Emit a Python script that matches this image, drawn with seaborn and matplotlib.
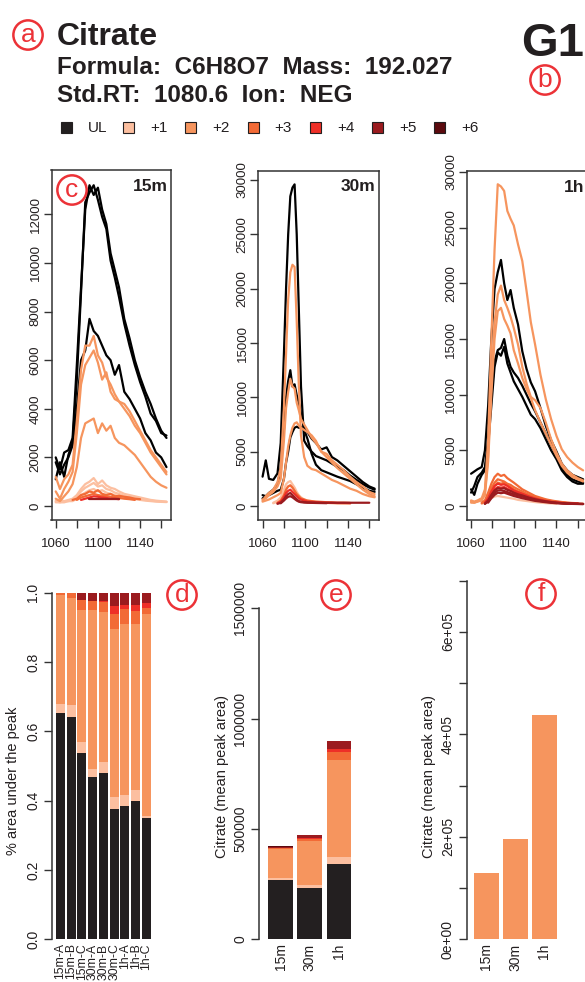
import numpy as np
import pandas as pd
import matplotlib.pyplot as plt
from matplotlib.patches import Rectangle
import seaborn as sns

nan = np.nan

# isotopologues and their colours
isos = ['UL', '+1', '+2', '+3', '+4', '+5', '+6']
iso_colors = ['#231F20', '#FCBFA0', '#F6955E', '#F26A36', '#EE2F27', '#9B1B1F', '#5C0A0E']

# ---- extracted ion chromatograms (retention time vs intensity) ----
rt_15m = [1060, 1064, 1068, 1072, 1076, 1080, 1084, 1088, 1092, 1096, 1100, 1104, 1108,
          1112, 1116, 1120, 1125, 1130, 1135, 1140, 1145, 1150, 1155, 1160, 1165]
ul_15m = [
    [2000, 1500, 2200, 2300, 2800, 5800, 9000, 12200, 13200, 12800, 13100, 12200, 11600,
     10400, 9700, 9000, 7700, 6900, 6000, 5300, 4700, 4200, 3600, 3100, 2800],
    [1100, 1800, 1200, 2100, 2600, 5200, 8800, 12500, 12900, 13200, 12600, 11900, 11400,
     10100, 9400, 8600, 7500, 6600, 5800, 5100, 4500, 3800, 3500, 3000, 2900],
    [1800, 1300, 1700, 2000, 2500, 4000, 6000, 6400, 7700, 7200, 7000, 6600, 6200,
     6000, 5400, 5800, 4700, 4400, 4000, 3600, 3000, 2700, 2200, 2000, 1600],
]
m1_15m = [
    [200, 250, 200, 250, 300, 450, 700, 900, 1000, 1150, 900, 1050, 850,
     750, 700, 600, 500, 450, 400, 350, 300, 250, 220, 200, 180],
    [200, 150, 200, 200, 250, 400, 600, 750, 850, 950, 800, 850, 700,
     650, 550, 500, 420, 380, 330, 300, 250, 220, 200, 180, 170],
    [150, 150, 150, 200, 200, 300, 450, 550, 650, 700, 600, 650, 550,
     500, 450, 400, 350, 300, 280, 250, 220, 200, 180, 170, 160],
]
m2_15m = [
    [1200, 700, 1100, 1300, 1700, 3500, 5600, 6600, 6600, 7000, 6200, 5900, 5300,
     5000, 4600, 4300, 4200, 3900, 3500, 3100, 2700, 2300, 2000, 1700, 1400],
    [600, 300, 700, 1000, 1400, 3000, 5000, 5800, 6100, 6400, 5900, 5200, 5500,
     4700, 4400, 4300, 4000, 3700, 3300, 3000, 2600, 2200, 1900, 1600, 1300],
    [300, 200, 400, 600, 900, 1600, 2800, 3400, 3500, 3600, 3000, 3400, 3100,
     3300, 2800, 2600, 2500, 2300, 2100, 1800, 1500, 1200, 1000, 850, 750],
]
m3_15m = [
    [nan, nan, nan, nan, 250, 300, 450, 500, 600, 550, 650, 500, 450,
     500, 400, 420, 380, 350, 300, 280, nan, nan, nan, nan, nan],
    [nan, nan, nan, nan, nan, 250, 350, 400, 450, 500, 450, 420, 400,
     380, 350, 330, 300, 280, 250, nan, nan, nan, nan, nan, nan],
]
m4_15m = [
    [nan, nan, nan, nan, nan, nan, 250, 300, 350, 400, 380, 350, 330,
     300, 300, 280, nan, nan, nan, nan, nan, nan, nan, nan, nan],
]
m5_15m = [
    [nan, nan, nan, nan, nan, nan, nan, nan, 300, 300, 300, 300, 300,
     300, 300, 300, nan, nan, nan, nan, nan, nan, nan, nan, nan],
]

rt_30m = [1060, 1063, 1066, 1070, 1074, 1077, 1080, 1082, 1084, 1086, 1088, 1090, 1092, 1094,
          1096, 1099, 1102, 1106, 1110, 1115, 1120, 1125, 1130, 1136, 1142, 1148, 1154, 1160, 1165]
ul_30m = [
    [2700, 4200, 2500, 2400, 3000, 5800, 14000, 20000, 25000, 28500, 29300, 29600, 25000, 18000,
     11000, 6000, 5500, 5000, 4600, 4400, 4200, 3900, 3600, 3300, 2800, 2400, 2000, 1700, 1500],
    [1000, 900, 1200, 1500, 2000, 3500, 7000, 10000, 11500, 12500, 11000, 11200, 10200, 9500,
     8500, 7200, 6800, 6200, 5800, 5200, 5400, 4500, 4200, 3700, 3200, 2700, 2200, 1800, 1600],
    [700, 900, 1000, 1200, 1400, 1500, 2500, 4000, 5000, 6300, 6800, 7200, 7300, 7200,
     7300, 7000, 6200, 4800, 3800, 3300, 3100, 2900, 2700, 2500, 2300, 2000, 1700, 1400, 1300],
]
m1_30m = [
    [nan, nan, nan, 300, 500, 800, 1500, 2000, 2200, 2300, 2000, 1700, 1300, 1000,
     800, 600, 500, 450, 400, 350, 300, 300, 250, 250, 200, nan, nan, nan, nan],
    [nan, nan, nan, 250, 400, 600, 1200, 1600, 1800, 1900, 1700, 1400, 1100, 850,
     700, 550, 450, 400, 350, 300, 280, 250, 220, 200, 200, nan, nan, nan, nan],
]
m2_30m = [
    [500, 900, 1200, 1500, 2200, 3500, 9000, 14000, 19000, 21500, 22200, 22000, 17000, 11000,
     6500, 4500, 3700, 3400, 3300, 3000, 2700, 2400, 2200, 1900, 1600, 1400, 1100, 900, 800],
    [600, 700, 1000, 1300, 1800, 2500, 6000, 9000, 10500, 11700, 11000, 10800, 9500, 8800,
     8000, 7500, 7000, 6300, 5800, 5000, 4800, 4200, 3800, 3300, 2700, 2200, 1800, 1300, 1100],
    [400, 500, 600, 800, 1000, 1200, 2500, 4000, 5500, 6500, 7200, 7600, 7700, 7400,
     7200, 7000, 6800, 6500, 6000, 5000, 4500, 4000, 3500, 3000, 2500, 2000, 1500, 1100, 900],
]
m3_30m = [
    [nan, nan, nan, nan, 300, 500, 1000, 1500, 1800, 1900, 1700, 1400, 1100, 900,
     700, 600, 500, 450, 400, 380, 350, 330, 300, 300, 280, nan, nan, nan, nan],
]
m4_30m = [
    [nan, nan, nan, nan, 250, 400, 800, 1200, 1400, 1500, 1300, 1100, 900, 700,
     600, 500, 400, 380, 350, 330, 300, 300, 280, 280, 270, nan, nan, nan, nan],
]
m5_30m = [
    [nan, nan, nan, nan, 200, 300, 600, 900, 1100, 1200, 1000, 800, 600, 450,
     400, 350, 330, 320, 310, 300, 300, 300, 300, 300, 300, 300, 300, 300, nan],
    [nan, nan, nan, nan, nan, 250, 500, 700, 850, 900, 800, 650, 500, 400,
     350, 320, 300, 290, 280, 270, 260, nan, nan, nan, nan, nan, nan, nan, nan],
]

rt_1h = [1060, 1063, 1066, 1070, 1073, 1076, 1079, 1082, 1085, 1088, 1091, 1094, 1097, 1100,
         1104, 1108, 1112, 1116, 1120, 1125, 1130, 1135, 1140, 1145, 1150, 1155, 1160, 1165]
ul_1h = [
    [2900, 3100, 3300, 3500, 5000, 9000, 15000, 19500, 21000, 22100, 20000, 18500, 19400, 17800,
     16300, 13900, 12300, 11100, 10300, 8800, 7200, 5900, 4900, 3800, 3200, 2800, 2600, 2400],
    [1200, 1800, 2600, 3000, 3500, 6000, 10000, 13000, 14000, 14200, 15000, 13500, 12500, 12000,
     11500, 10800, 10000, 9200, 8500, 7500, 6500, 5500, 4500, 3500, 2800, 2400, 2200, 2100],
    [1500, 1000, 2000, 2800, 3200, 5500, 9000, 12500, 13800, 13500, 14300, 12800, 12000, 11200,
     10500, 9800, 9000, 8200, 7800, 7000, 6000, 5000, 4200, 3200, 2600, 2200, 2000, 2000],
]
m1_1h = [
    [nan, nan, nan, 200, 300, 500, 700, 850, 900, 850, 800, 750, 700, 650,
     550, 500, 450, 400, 350, 300, 260, 230, 200, nan, nan, nan, nan, nan],
]
m2_1h = [
    [500, 400, 500, 700, 1500, 6000, 15000, 23000, 28900, 28700, 28300, 26500, 25800, 25200,
     23500, 22000, 19300, 16500, 14500, 11800, 9600, 7800, 6300, 5100, 4400, 3900, 3500, 3200],
    [300, 300, 400, 600, 1200, 4500, 11000, 16500, 19000, 19800, 18500, 17800, 17000, 16000,
     14500, 12500, 11000, 9800, 9500, 8800, 7500, 6000, 4800, 3800, 3200, 2800, 2500, 2300],
    [400, 300, 400, 500, 1000, 4000, 10000, 15000, 17500, 17800, 16800, 16200, 15500, 14000,
     12800, 11500, 10500, 9700, 8600, 7500, 6500, 5500, 4500, 3600, 3000, 2600, 2400, 2200],
]
m3_1h = [
    [nan, nan, nan, 300, 500, 1200, 2000, 2600, 2900, 2700, 2800, 2500, 2300, 2100,
     1800, 1500, 1300, 1100, 900, 750, 600, 500, 420, 360, 300, 270, 250, nan],
    [nan, nan, nan, 250, 400, 900, 1600, 2100, 2400, 2300, 2200, 2000, 1900, 1700,
     1500, 1300, 1100, 950, 800, 650, 550, 450, 380, 330, 280, 250, 230, nan],
    [nan, nan, nan, nan, 300, 700, 1300, 1800, 2100, 2000, 2100, 1900, 1700, 1500,
     1300, 1150, 1000, 850, 700, 600, 500, 420, 350, 300, 260, 230, 210, 200],
]
m4_1h = [
    [nan, nan, nan, nan, 300, 700, 1300, 1800, 2000, 1900, 1950, 1800, 1600, 1400,
     1250, 1100, 950, 800, 680, 560, 460, 380, 320, 280, 250, 230, 210, nan],
    [nan, nan, nan, nan, 250, 600, 1100, 1500, 1700, 1650, 1700, 1550, 1400, 1250,
     1100, 950, 820, 700, 600, 500, 420, 350, 300, 260, 240, 220, 200, nan],
]
m5_1h = [
    [nan, nan, nan, nan, 200, 500, 1000, 1400, 1600, 1550, 1600, 1450, 1350, 1200,
     1050, 950, 820, 700, 600, 500, 420, 350, 300, 260, 230, 210, 200, 190],
    [nan, nan, nan, nan, 200, 400, 800, 1200, 1400, 1400, 1350, 1250, 1150, 1050,
     950, 850, 750, 650, 550, 450, 380, 320, 280, 250, 220, 200, 190, 180],
    [nan, nan, nan, nan, nan, 300, 700, 1000, 1200, 1150, 1200, 1100, 1000, 900,
     800, 700, 620, 540, 460, 400, 340, 290, 250, 220, 200, 190, 180, 170],
]

# ---- fraction of peak area per sample ----
samples = ['15m-A', '15m-B', '15m-C', '30m-A', '30m-B', '30m-C', '1h-A', '1h-B', '1h-C']
frac_ul = [0.654, 0.642, 0.538, 0.469, 0.481, 0.377, 0.385, 0.400, 0.351]
frac_m1 = [0.025, 0.034, 0.032, 0.022, 0.030, 0.034, 0.031, 0.031, 0.006]
frac_m2 = [0.314, 0.308, 0.380, 0.459, 0.434, 0.485, 0.493, 0.478, 0.581]
frac_m3 = [0.006, 0.016, 0.029, 0.027, 0.027, 0.042, 0.044, 0.038, 0.017]
frac_m4 = [0.000, 0.000, 0.001, 0.000, 0.004, 0.023, 0.011, 0.017, 0.015]
frac_m5 = [0.001, 0.000, 0.018, 0.021, 0.022, 0.037, 0.034, 0.034, 0.028]
frac_m6 = [0.000, 0.000, 0.002, 0.002, 0.002, 0.002, 0.002, 0.002, 0.002]

# ---- mean peak area per time point ----
times = ['15m', '30m', '1h']
area_ul = [269000, 232000, 341000]
area_m1 = [10000, 14000, 32000]
area_m2 = [132000, 199000, 440000]
area_m3 = [3000, 9000, 36000]
area_m4 = [2000, 7000, 13000]
area_m5 = [4000, 10000, 36000]
area_m6 = [1000, 2000, 2000]
area_m2_only = [130000, 196500, 438000]

# ---------------------------------------------------------------
W, H = 585, 982
red = '#EC3237'
ink = '#231F20'

sns.set_theme(style='ticks')
plt.rcParams['font.family'] = ['Liberation Sans', 'DejaVu Sans']
plt.rcParams['axes.linewidth'] = 1.1
plt.rcParams['axes.edgecolor'] = '#333333'
plt.rcParams['xtick.color'] = '#333333'
plt.rcParams['ytick.color'] = '#333333'
plt.rcParams['xtick.labelcolor'] = ink
plt.rcParams['ytick.labelcolor'] = ink

fig = plt.figure(figsize=(W / 100, H / 100), dpi=100)


def add_ax(left, top, right, bottom):
    return fig.add_axes([left / W, 1 - bottom / H, (right - left) / W, (bottom - top) / H])


def badge(x, y, letter):
    fig.text(x / W, 1 - y / H, letter, fontsize=19, color=red, ha='center', va='center',
             bbox=dict(boxstyle='circle,pad=0.1', fc='none', ec=red, lw=1.8))


# header
fig.text(57 / W, 1 - 45 / H, 'Citrate', fontsize=23, weight='bold', color=ink, va='baseline')
fig.text(57 / W, 1 - 73.5 / H, 'Formula:  C6H8O7  Mass:  192.027', fontsize=17.5,
         weight='bold', color=ink, va='baseline')
fig.text(57 / W, 1 - 102 / H, 'Std.RT:  1080.6  Ion:  NEG', fontsize=17.5,
         weight='bold', color=ink, va='baseline')
fig.text(521 / W, 1 - 56 / H, 'G1', fontsize=34, weight='bold', color=ink, va='baseline')
badge(28, 35, 'a')
badge(545, 80, 'b')

# legend row
for k, (lab, col) in enumerate(zip(isos, iso_colors)):
    x0 = 61 + 62.2 * k
    fig.add_artist(Rectangle((x0 / W, 1 - 133 / H), 11 / W, 11 / H, transform=fig.transFigure,
                             fc=col, ec=ink, lw=0.8))
    fig.text((x0 + 27) / W, 1 - 127.5 / H, lab, fontsize=11, color=ink, va='center')

# ---- chromatogram panels ----
rows = []
for panel, rt, groups in [('15m', rt_15m, [ul_15m, m1_15m, m2_15m, m3_15m, m4_15m, m5_15m]),
                          ('30m', rt_30m, [ul_30m, m1_30m, m2_30m, m3_30m, m4_30m, m5_30m]),
                          ('1h', rt_1h, [ul_1h, m1_1h, m2_1h, m3_1h, m4_1h, m5_1h])]:
    for iso, reps in zip(isos, groups):
        for r, vals in enumerate(reps):
            for x, y in zip(rt, vals):
                rows.append((panel, iso, r, x, y))
eic = pd.DataFrame(rows, columns=['panel', 'iso', 'rep', 'rt', 'intensity']).dropna()

line_pal = dict(zip(isos, ['#000000'] + iso_colors[1:]))
line_axes = [
    ('15m', (51.5, 170, 170.7, 519.5), (-556, 13827), range(0, 12001, 2000)),
    ('30m', (258.3, 170.7, 378.9, 519.5), (-1242, 30858), range(0, 30001, 5000)),
    ('1h', (466.8, 171, 587.4, 519.5), (-1212, 30090), range(0, 30001, 5000)),
]
for panel, box, ylim, yt in line_axes:
    ax = add_ax(*box)
    sns.lineplot(data=eic[eic.panel == panel], x='rt', y='intensity', hue='iso', units='rep',
                 estimator=None, palette=line_pal, hue_order=isos[:6], linewidth=1.6,
                 legend=False, sort=False, ax=ax)
    ax.set_xlim(1056, 1169)
    ax.set_ylim(*ylim)
    ax.set_xlabel('')
    ax.set_ylabel('')
    ax.set_xticks(range(1060, 1161, 20))
    ax.set_xticklabels(['1060', '', '1100', '', '1140', ''])
    ax.set_yticks(list(yt))
    ax.set_yticklabels([str(v) for v in yt], rotation=90, va='center')
    ax.tick_params(axis='both', direction='out', length=5.5, width=1, labelsize=9.5)
    ax.tick_params(axis='x', pad=8)
    ax.tick_params(axis='y', pad=1.5)
    ax.text(0.975, 0.975, panel, transform=ax.transAxes, ha='right', va='top',
            fontsize=12.5, weight='bold', color=ink)
badge(72, 190, 'c')


# ---- stacked bars ----
def stacked(ax, cats, layers, width):
    cum = np.cumsum(np.array(layers, dtype=float), axis=0)
    for k in range(len(layers) - 1, -1, -1):
        sns.barplot(x=cats, y=cum[k], order=cats, color=iso_colors[k], width=width,
                    saturation=1, errorbar=None, linewidth=0, ax=ax)


def bar_axis(ax, yt, labels, cats, xsize):
    for side in ['top', 'right', 'bottom']:
        ax.spines[side].set_visible(False)
    ax.spines['left'].set_bounds(yt[0], yt[-1])
    ax.set_yticks(yt)
    ax.set_yticklabels(labels, rotation=90, va='center')
    ax.set_xticks(range(len(cats)))
    ax.set_xticklabels(cats, rotation=90, va='top', ha='center')
    ax.tick_params(axis='y', direction='out', length=5.5, width=1, labelsize=10, pad=3)
    ax.tick_params(axis='x', length=0, labelsize=xsize, pad=3)
    ax.set_xlabel('')
    ax.set_ylabel('')
    ax.patch.set_alpha(0)


# d: fraction of area
ax_d = add_ax(52.3, 592.7, 160, 939.3)
stacked(ax_d, samples, [frac_ul, frac_m1, frac_m2, frac_m3, frac_m4, frac_m5, frac_m6], 0.837)
ax_d.set_ylim(0, 1)
ax_d.set_xlim(-0.76, 9.26)
bar_axis(ax_d, [0, 0.2, 0.4, 0.6, 0.8, 1.0], ['0.0', '0.2', '0.4', '0.6', '0.8', '1.0'],
         samples, 8.8)
fig.text(13.3 / W, 1 - 781 / H, '% area under the peak', rotation=90, ha='center',
         va='center', fontsize=10.5, color=ink)
badge(182, 595, 'd')

# e: mean peak area, all isotopologues
ax_e = add_ax(259, 608.3, 365, 939.3)
stacked(ax_e, times, [area_ul, area_m1, area_m2, area_m3, area_m4, area_m5, area_m6], 0.84)
ax_e.set_ylim(0, 1500000)
ax_e.set_xlim(-0.74, 2.9)
bar_axis(ax_e, [0, 500000, 1000000, 1500000], ['0', '500000', '1000000', '1500000'], times, 10)
fig.text(221.7 / W, 1 - 777 / H, 'Citrate (mean peak area)', rotation=90, ha='center',
         va='center', fontsize=10.5, color=ink)
badge(336, 595, 'e')

# f: mean peak area of +2 only
ax_f = add_ax(466.7, 580.7, 575, 939.3)
sns.barplot(x=times, y=area_m2_only, order=times, color=iso_colors[2], width=0.845,
            saturation=1, errorbar=None, linewidth=0, ax=ax_f)
ax_f.set_ylim(0, 700000)
ax_f.set_xlim(-0.672, 3.05)
f_ticks = list(range(0, 700001, 100000))
f_labels = ['0e+00', '', '2e+05', '', '4e+05', '', '6e+05', '']
bar_axis(ax_f, f_ticks, f_labels, times, 10)
fig.text(429 / W, 1 - 777 / H, 'Citrate (mean peak area)', rotation=90, ha='center',
         va='center', fontsize=10.5, color=ink)
badge(541, 594, 'f')

fig.savefig('out.png', dpi=100)
